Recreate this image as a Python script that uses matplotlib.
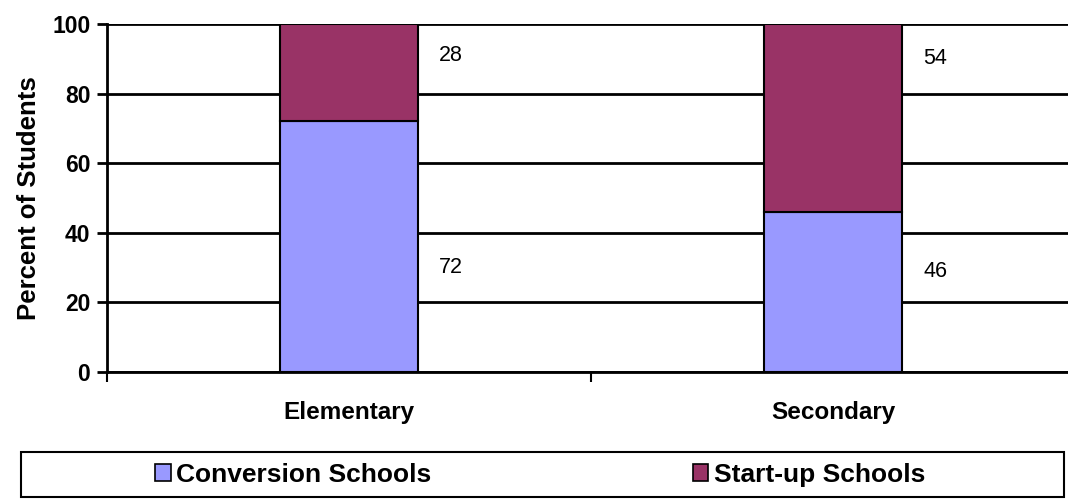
import matplotlib.pyplot as plt
from matplotlib.patches import Rectangle, Patch

plt.rcParams['font.family'] = ['Liberation Sans', 'DejaVu Sans']

categories = ["Elementary", "Secondary"]
conversion = [72, 46]
startup = [28, 54]
series_names = ["Conversion Schools", "Start-up Schools"]
colors = ["#9999FF", "#993366"]

# where the value labels sit (data units)
label_y_conv = [30, 29]
label_y_start = [91, 90]

W, H = 1068, 499
fig = plt.figure(figsize=(W / 100, H / 100), dpi=100)
ax = fig.add_axes([107 / W, (H - 372) / H, (1075 - 107) / W, 348 / H])

x = list(range(len(categories)))
bw = 0.287
ax.bar(x, conversion, bw, color=colors[0], edgecolor="black", linewidth=1.5, zorder=3)
ax.bar(x, startup, bw, bottom=conversion, color=colors[1], edgecolor="black", linewidth=1.5, zorder=3)

for i in x:
    ax.text(i + bw / 2 + 0.043, label_y_conv[i], str(conversion[i]), fontsize=15.5, va="center", ha="left")
    ax.text(i + bw / 2 + 0.043, label_y_start[i], str(startup[i]), fontsize=15.5, va="center", ha="left")

ax.set_xlim(-0.5, 1.5)
ax.set_ylim(0, 100)
ax.set_yticks(range(0, 101, 20))
ax.yaxis.grid(True, color="black", linewidth=2)
ax.set_axisbelow(True)
for s in ["top", "right"]:
    ax.spines[s].set_visible(False)
for s in ["left", "bottom"]:
    ax.spines[s].set_linewidth(2)

ax.tick_params(axis="y", length=7, width=2, labelsize=16.5, pad=5)
for lab in ax.get_yticklabels():
    lab.set_fontweight("bold")
ax.set_xticks(x)
ax.set_xticklabels(categories, fontsize=17.5, fontweight="bold")
ax.tick_params(axis="x", which="major", length=0, pad=21)
ax.set_xticks([-0.5, 0.5, 1.5], minor=True)
ax.tick_params(axis="x", which="minor", length=7, width=1.5)
ax.set_ylabel("Percent of Students", fontsize=18.5, fontweight="bold", labelpad=8)

# legend box across the bottom
fig.patches.append(Rectangle((21 / W, 1 - 497 / H), (1064 - 21) / W, 45 / H,
                             transform=fig.transFigure, fill=False, edgecolor="black", linewidth=1.5))
handles = [Patch(facecolor=c, edgecolor="black", linewidth=1.2) for c in colors]
fig.legend(handles, series_names, loc="center", bbox_to_anchor=(540 / W, 1 - 475 / H), ncol=2,
           frameon=False, prop={"weight": "bold", "size": 19}, handlelength=0.6, handleheight=0.6,
           handletextpad=0.2, columnspacing=9.9, borderaxespad=0, borderpad=0)

fig.savefig("out.png", dpi=100)
